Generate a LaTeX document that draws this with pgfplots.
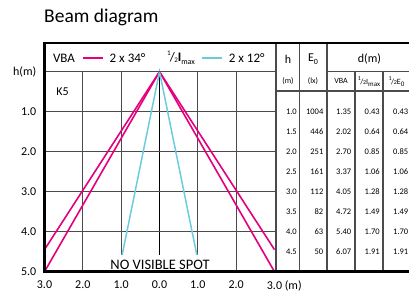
\documentclass[border=0pt]{standalone}
\usepackage{pgfplots}
\pgfplotsset{compat=1.18}
\usepackage{fontspec}
\setmainfont{Carlito}
\definecolor{mag}{RGB}{228,0,124}
\definecolor{cy}{RGB}{108,204,222}
\definecolor{gr}{RGB}{75,75,75}
\newcommand\fs[1]{\fontsize{#1}{#1}\selectfont}
\newcommand\half[1]{\raisebox{.45em}{\fs{#1}1}\kern-.05em/\kern-.05em\raisebox{-.1em}{\fs{#1}2}}
\begin{document}
\begin{tikzpicture}[x=1pt,y=1pt]
% title
\node[anchor=base west, inner sep=0pt] at (44,272) {\fs{19.5}Beam diagram};
% grid lines (under the beams)
\foreach \gx in {82.8,121.2,197.8,236.2} \draw[gr, line width=1.1pt] (\gx,23.3) -- (\gx,223.3);
\draw[black, line width=1.1pt] (159.5,23.3) -- (159.5,223.3);
\foreach \gy in {183.3,143.3,103.3,63.3} \draw[gr, line width=1.1pt] (44.5,\gy) -- (276,\gy);
\begin{axis}[
  at={(44.5pt,23.3pt)}, anchor=south west,
  scale only axis, width=230pt, height=228.8pt,
  xmin=-3, xmax=3, ymin=-0.72, ymax=5, y dir=reverse,
  clip=false,
  axis line style={draw=none},
  major tick length=0pt,
  xtick={-3,-2,-1,0,1,2,3},
  xticklabels={3.0,2.0,1.0,0.0,1.0,2.0,{3.0\rlap{ (m)}}},
  ytick={0,1,2,3,4,5},
  yticklabels={h(m),1.0,2.0,3.0,4.0,5.0},
  tick label style={font=\fs{12}, inner sep=0pt},
  xticklabel style={yshift=-9pt},
  yticklabel style={xshift=-8pt},
]
\addplot[mag, line width=1.6pt] coordinates {(-3,4.448) (0,0) (3,4.448)};
\addplot[mag, line width=1.6pt] coordinates {(-3,5) (0,0) (3,5)};
\addplot[cy, line width=1.5pt] coordinates {(-1.063,5) (0,0) (1.063,5)};
\end{axis}
% no visible spot
\node[fill=white, inner xsep=2pt, inner ysep=4.5pt] at (160,30.5) {\fs{14.5}NO VISIBLE SPOT};
% header row of the plot
\node at (64,237) {\fs{13}VBA};
\draw[mag, line width=1.6pt] (83.3,237) -- (103.3,237);
\node at (127.5,237) {\fs{13}2 x 34°};
\node at (181,237) {\fs{13}\half{7}\textbf{I}\raisebox{-.25em}{\fs{8}max}};
\draw[cy, line width=1.6pt] (201.7,237) -- (221.7,237);
\node at (246.7,237) {\fs{13}2 x 12°};
\node at (62.5,203) {\fs{12}K5};
% table lines
\draw[gr, line width=1.1pt] (44.5,223.5) -- (276,223.5);
\draw[gr, line width=1.1pt] (327,223.5) -- (409,223.5);
\draw[gr, line width=1.1pt] (276,204) -- (409,204);
\foreach \tx in {276,299.5,327} \draw[gr, line width=1.2pt] (\tx,23.3) -- (\tx,252);
\foreach \tx in {355,383} \draw[gr, line width=1.2pt] (\tx,23.3) -- (\tx,223.5);
% table header
\node at (288,236) {\fs{12}h};
\node at (313,236) {\fs{12}E\raisebox{-.2em}{\fs{8}0}};
\node at (369.5,236) {\fs{12}d(m)};
\node at (288,213.7) {\fs{8}(m)};
\node at (313,213.7) {\fs{8}(lx)};
\node at (341,213.7) {\fs{8}VBA};
\node at (369,213.7) {\fs{8}\half{6}I\raisebox{-.25em}{\fs{7}max}};
\node at (396.5,213.7) {\fs{8}\half{6}E\raisebox{-.25em}{\fs{7}0}};
% table data
\foreach \h/\e/\v/\i/\f in {1.0/1004/1.35/0.43/0.43, 1.5/446/2.02/0.64/0.64, 2.0/251/2.70/0.85/0.85, 2.5/161/3.37/1.06/1.06, 3.0/112/4.05/1.28/1.28, 3.5/82/4.72/1.49/1.49, 4.0/63/5.40/1.70/1.70, 4.5/50/6.07/1.91/1.91}{
  \pgfmathsetmacro\ry{223.3-40*\h}
  \node[anchor=east, inner sep=0pt] at (297,\ry) {\fs{8.5}\h};
  \node[anchor=east, inner sep=0pt] at (323.5,\ry) {\fs{8.5}\e};
  \node[anchor=east, inner sep=0pt] at (351.5,\ry) {\fs{8.5}\v};
  \node[anchor=east, inner sep=0pt] at (380,\ry) {\fs{8.5}\i};
  \node[anchor=east, inner sep=0pt] at (408.5,\ry) {\fs{8.5}\f};
}
% thick frame
\draw[black, line width=2.6pt] (44.5,22) -- (44.5,253.3);
\draw[black, line width=2.6pt] (43.2,252) -- (409,252);
\draw[black, line width=2.6pt] (43.2,23.3) -- (409,23.3);
\pgfresetboundingbox
\useasboundingbox (0,0) rectangle (409,295);
\end{tikzpicture}
\end{document}
